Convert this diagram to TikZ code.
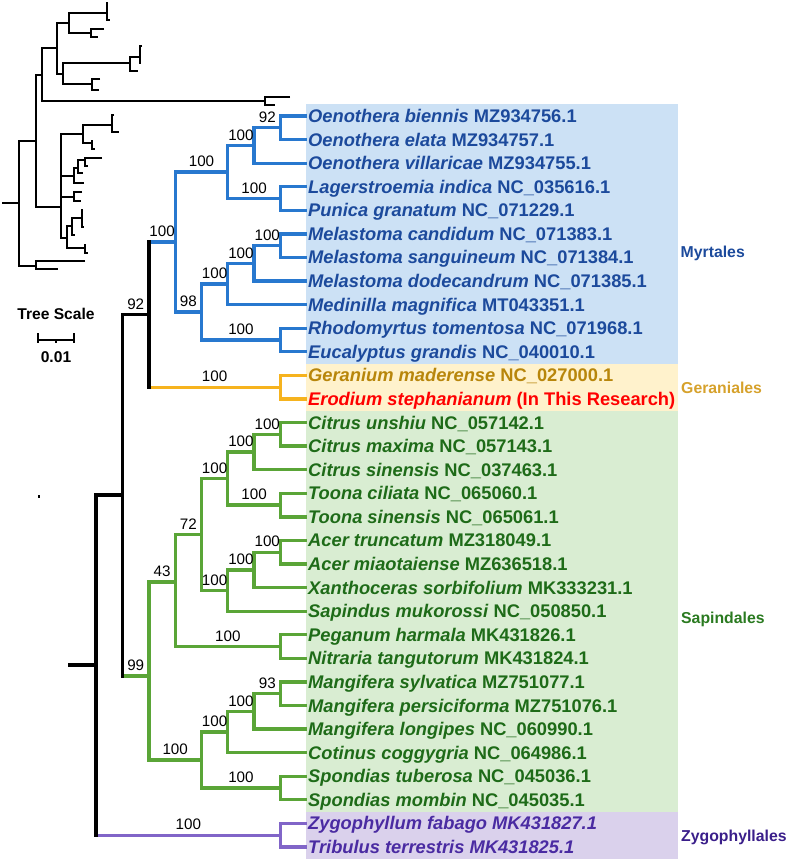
\documentclass[tikz,border=0pt]{standalone}
\usepackage{fontspec}
\setmainfont{Liberation Sans}

\definecolor{myrline}{HTML}{2878CF}
\definecolor{myrtext}{HTML}{1C4A9C}
\definecolor{myrfill}{HTML}{CCE1F5}
\definecolor{gerline}{HTML}{F6B31E}
\definecolor{gertext}{HTML}{B8860B}
\definecolor{gerlab}{HTML}{D6A12B}
\definecolor{gerfill}{HTML}{FFF2CC}
\definecolor{sapline}{HTML}{5AA537}
\definecolor{saptext}{HTML}{1E6B18}
\definecolor{saplab}{HTML}{2A7A20}
\definecolor{sapfill}{HTML}{D9EDD2}
\definecolor{zygline}{HTML}{8165C8}
\definecolor{zygtext}{HTML}{4A2BA2}
\definecolor{zyglab}{HTML}{3A1E8A}
\definecolor{zygfill}{HTML}{DAD1EC}

\begin{document}
\begin{tikzpicture}[
        x=1pt, y=-1pt,
        branch/.style={line width=3.3pt},
        myrbranch/.style={branch,draw=myrline},
        gerbranch/.style={branch,draw=gerline},
        sapbranch/.style={branch,draw=sapline},
        zygbranch/.style={branch,draw=zygline},
        backbone/.style={line width=3.7pt,draw=black,line cap=rect},
        support/.style={pos=.75,above=3pt,inner sep=0.5pt,text=black,
            font=\fontsize{15.2}{15}\selectfont},
        leaf/.style={anchor=west,inner sep=1pt,text height=13pt,text depth=0pt,
            font=\fontsize{18.3}{18}\selectfont\bfseries},
        myrleaf/.style={text=myrtext},
        gerleaf/.style={text=gertext},
        eroleaf/.style={text=red},
        sapleaf/.style={text=saptext},
        zygleaf/.style={text=zygtext,font=\fontsize{18.3}{18}\selectfont\bfseries\itshape},
        clade/.style={anchor=west,inner sep=0pt,text height=11.3pt,text depth=0pt,
            font=\fontsize{15.8}{16}\selectfont\bfseries},
        thumb/.style={line width=1.8pt}
    ]
    \useasboundingbox (0,0) rectangle (789,862);

    % order backgrounds
    \fill[myrfill] (306,104.2) rectangle (678,363.6);
    \fill[gerfill] (306,363.6) rectangle (678,410.8);
    \fill[sapfill] (306,410.8) rectangle (678,811.6);
    \fill[zygfill] (306,811.6) rectangle (678,858.8);

    \node[clade,text=myrtext] (myrlab) at (680.5,251.5) {Myrtales};
    \node[clade,text=gerlab] (gerlab) at (681,388) {Geraniales};
    \node[clade,text=saplab] (saplab) at (681,618) {Sapindales};
    \node[clade,text=zyglab] (zyglab) at (681,835.5) {Zygophyllales};

    % leaves
    \foreach \sty/\sp/\acc [count=\i] in {
        myrleaf/Oenothera biennis/MZ934756.1,
        myrleaf/Oenothera elata/MZ934757.1,
        myrleaf/Oenothera villaricae/MZ934755.1,
        myrleaf/Lagerstroemia indica/NC\_035616.1,
        myrleaf/Punica granatum/NC\_071229.1,
        myrleaf/Melastoma candidum/NC\_071383.1,
        myrleaf/Melastoma sanguineum/NC\_071384.1,
        myrleaf/Melastoma dodecandrum/NC\_071385.1,
        myrleaf/Medinilla magnifica/MT043351.1,
        myrleaf/Rhodomyrtus tomentosa/NC\_071968.1,
        myrleaf/Eucalyptus grandis/NC\_040010.1,
        gerleaf/Geranium maderense/NC\_027000.1,
        eroleaf/Erodium stephanianum/(In This Research),
        sapleaf/Citrus unshiu/NC\_057142.1,
        sapleaf/Citrus maxima/NC\_057143.1,
        sapleaf/Citrus sinensis/NC\_037463.1,
        sapleaf/Toona ciliata/NC\_065060.1,
        sapleaf/Toona sinensis/NC\_065061.1,
        sapleaf/Acer truncatum/MZ318049.1,
        sapleaf/Acer miaotaiense/MZ636518.1,
        sapleaf/Xanthoceras sorbifolium/MK333231.1,
        sapleaf/Sapindus mukorossi/NC\_050850.1,
        sapleaf/Peganum harmala/MK431826.1,
        sapleaf/Nitraria tangutorum/MK431824.1,
        sapleaf/Mangifera sylvatica/MZ751077.1,
        sapleaf/Mangifera persiciforma/MZ751076.1,
        sapleaf/Mangifera longipes/NC\_060990.1,
        sapleaf/Cotinus coggygria/NC\_064986.1,
        sapleaf/Spondias tuberosa/NC\_045036.1,
        sapleaf/Spondias mombin/NC\_045035.1,
        zygleaf/Zygophyllum fabago/MK431827.1,
        zygleaf/Tribulus terrestris/MK431825.1}
        \node[leaf,\sty] (l\i) at (307,{116+23.58*(\i-1)}) {\textit{\sp} \acc};

    % inner nodes
    \coordinate (oeA) at (280.4,127.8);
    \coordinate (oeB) at (254.1,145.5);
    \coordinate (lp) at (280.4,198.5);
    \coordinate (oeLp) at (227.8,172.0);
    \coordinate (me1) at (280.4,245.7);
    \coordinate (me2) at (254.1,263.4);
    \coordinate (me3) at (227.8,284.0);
    \coordinate (re) at (280.4,340.0);
    \coordinate (me4) at (201.5,312.0);
    \coordinate (myr) at (175.2,242.0);
    \coordinate (ger) at (280.4,387.2);
    \coordinate (mg) at (148.9,314.6);
    \coordinate (ci1) at (280.4,434.3);
    \coordinate (ci2) at (254.1,452.0);
    \coordinate (to) at (280.4,505.1);
    \coordinate (ru) at (227.8,478.6);
    \coordinate (ac1) at (280.4,552.2);
    \coordinate (ac2) at (254.1,569.9);
    \coordinate (sa) at (227.8,590.5);
    \coordinate (rs) at (201.5,534.5);
    \coordinate (pn) at (280.4,646.6);
    \coordinate (sp43) at (175.2,582.0);
    \coordinate (ma1) at (280.4,693.7);
    \coordinate (ma2) at (254.1,711.4);
    \coordinate (ma3) at (227.8,732.0);
    \coordinate (spo) at (280.4,788.0);
    \coordinate (an) at (201.5,760.0);
    \coordinate (sap) at (148.9,676.0);
    \coordinate (top) at (122.6,495.0);
    \coordinate (zy) at (280.4,835.2);
    \coordinate (rootA) at (96.3,665.0);
    \coordinate (root) at (70,665.0);

    \foreach \p/\c/\v in {oeA/l1/,oeA/l2/,oeB/oeA/92,oeB/l3/,lp/l4/,lp/l5/,
            oeLp/oeB/100,oeLp/lp/100,me1/l6/,me1/l7/,me2/me1/100,me2/l8/,
            me3/me2/100,me3/l9/,re/l10/,re/l11/,me4/me3/100,me4/re/100,
            myr/oeLp/100,myr/me4/98,mg/myr/100}
        \draw[myrbranch] (\p) |- (\c) node[support]{\v};

    \draw[gerbranch] (ger) |- (l12);
    \draw[gerbranch] (ger) |- (l13);
    \draw[gerbranch] (mg) |- (ger) node[support]{100};

    \foreach \p/\c/\v in {ci1/l14/,ci1/l15/,ci2/ci1/100,ci2/l16/,to/l17/,to/l18/,
            ru/ci2/100,ru/to/100,ac1/l19/,ac1/l20/,ac2/ac1/100,ac2/l21/,
            sa/ac2/100,sa/l22/,rs/ru/100,rs/sa/100,pn/l23/,pn/l24/,
            sp43/rs/72,sp43/pn/100,ma1/l25/,ma1/l26/,ma2/ma1/93,ma2/l27/,
            ma3/ma2/100,ma3/l28/,spo/l29/,spo/l30/,an/ma3/100,an/spo/100,
            sap/sp43/43,sap/an/100,top/sap/99}
        \draw[sapbranch] (\p) |- (\c) node[support]{\v};

    \draw[zygbranch] (zy) |- (l31);
    \draw[zygbranch] (zy) |- (l32);
    \draw[zygbranch] (rootA) |- (zy) node[support]{100};

    % black backbone
    \draw[backbone] (mg |- myr) -- (mg |- ger);
    \draw[backbone] (top |- mg) -- (top |- sap);
    \draw[backbone] (top) |- (mg) node[support]{92};
    \draw[backbone] (rootA |- top) -- (rootA |- zy);
    \draw[backbone] (rootA) |- (top);
    \draw[backbone] (root) -- (rootA);

    % overview tree
    \draw[thumb] (2,203) -- (19,203);
    \draw[thumb] (36,141) -| (19,266) -- (36,266);
    \draw[thumb] (42,75) -| (36,207) -- (61,207);
    \draw[thumb] (57,48) -| (42,101) -- (265,101);
    \draw[thumb] (69,23) -| (57,74) -- (63,74);
    \draw[thumb] (107,13) -| (69,33) -- (91,33);
    \draw[thumb] (108,3) -| (107,20) -- (110,20);
    \draw[thumb] (104,29) -| (91,37) -- (98,37);
    \draw[thumb] (130,63) -| (63,84) -- (92,84);
    \draw[thumb] (140,57) -| (130,71) -- (138,71);
    \draw[thumb] (142,46) -| (140,63) -- (141,63);
    \draw[thumb] (100,79) -| (92,90) -- (99,90);
    \draw[thumb] (290,97) -| (265,105) -- (275,105);
    \draw[thumb] (83,134) -| (61,238) -- (67,238);
    \draw[line width=2.5pt] (61,155) -- (61,175);
    \draw[thumb] (61,176) -- (74,176);
    \draw[thumb] (61,197) -- (74,197);
    \draw[thumb] (112,125) -| (83,143) -- (92,143);
    \draw[thumb] (114,115) -| (112,132) -- (119,132);
    \draw[thumb] (92,140) -- (92,149) -- (95,149);
    \draw[thumb] (78,168) -| (74,183) -- (84,183);
    \draw[thumb] (85,160) -| (78,173) -- (83,173);
    \draw[thumb] (102,158) -| (85,166) -- (88,166);
    \draw[thumb] (82,192) -| (74,201) -- (81,201);
    \draw[thumb] (72,226) -| (67,248) -- (85,248);
    \draw[thumb] (82,218) -| (72,235) -- (75,235);
    \draw[thumb] (83,210) -| (82,227) -- (84,227);
    \draw[thumb] (85,244) -- (85,253) -- (88,253);
    \draw[thumb] (85,261) -| (36,269) -- (58,269);
    \fill (38,495) rectangle (40,497.5);

    % scale
    \node[font=\fontsize{15.6}{16}\selectfont\bfseries] (scalelab) at (56,314) {Tree Scale};
    \draw[line width=2.6pt] (38,340) coordinate (sbl) -- (74,340) coordinate (sbr);
    \draw[line width=1.5pt] (sbl) ++(0,-7) -- ++(0,10) (sbr) ++(0,-7) -- ++(0,10)
        (56,340) -- (56,343);
    \node[font=\fontsize{15.6}{16}\selectfont\bfseries] (scaleval) at (56,357.5) {0.01};

\end{tikzpicture}
\end{document}
